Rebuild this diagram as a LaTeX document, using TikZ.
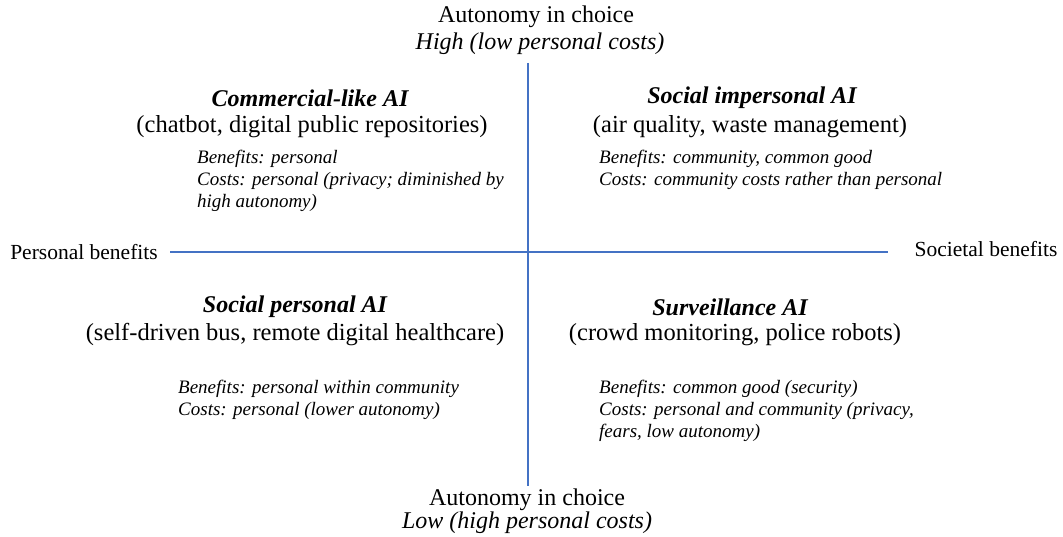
\documentclass[tikz,border=0pt]{standalone}
\usepackage{fontspec}
\setmainfont{Liberation Serif}
\definecolor{axisblue}{HTML}{4472C4}
\begin{document}
\begin{tikzpicture}[x=1pt,y=-1pt,
  axis/.style={draw=axisblue,line width=1.2pt},
  lbl/.style={font=\fontsize{21.5}{26}\selectfont,inner sep=0pt},
  axl/.style={font=\fontsize{24}{28}\selectfont,inner sep=0pt},
  ttl/.style={font=\fontsize{24}{28}\selectfont\bfseries\itshape,inner sep=0pt},
  sub/.style={font=\fontsize{24.5}{28}\selectfont,inner sep=0pt},
  blk/.style={font=\fontsize{19}{22}\selectfont\itshape,inner sep=0pt,align=left,anchor=north west}]
\useasboundingbox (0,0) rectangle (1063,537);
% axis labels
\node[axl] (top1) at (536,17) {Autonomy in choice};
\node[axl,font=\fontsize{24}{28}\selectfont\itshape] (top2) at (540,44) {High (low personal costs)};
\node[axl] (bot1) at (527,500) {Autonomy in choice};
\node[axl,font=\fontsize{24}{28}\selectfont\itshape] (bot2) at (527,523) {Low (high personal costs)};
\node[lbl] (pers) at (84,252) {Personal benefits};
\node[lbl] (soc) at (986,249) {Societal benefits};
% axes
\coordinate (vt) at (528,63);
\coordinate (vb) at (528,486);
\coordinate (hl) at (170,252);
\coordinate (hr) at (888,252);
\draw[axis] (vt) -- (vb);
\draw[axis] (hl) -- (hr);
% quadrant 1
\node[ttl] (q1t) at (310,98) {Commercial-like AI};
\node[sub] (q1s) at (312,127) {(chatbot, digital public repositories)};
\node[blk] (q1b) at (197,150) {Benefits: personal\\Costs: personal (privacy; diminished by\\high autonomy)};
% quadrant 2
\node[ttl] (q2t) at (752,98) {Social impersonal AI};
\node[sub] (q2s) at (750,127) {(air quality, waste management)};
\node[blk] (q2b) at (599,150) {Benefits: community, common good\\Costs: community costs rather than personal};
% quadrant 3
\node[ttl] (q3t) at (295,307) {Social personal AI};
\node[sub] (q3s) at (295,335) {(self-driven bus, remote digital healthcare)};
\node[blk] (q3b) at (178,380) {Benefits: personal within community\\Costs: personal (lower autonomy)};
% quadrant 4
\node[ttl] (q4t) at (730,307) {Surveillance AI};
\node[sub] (q4s) at (735,335) {(crowd monitoring, police robots)};
\node[blk] (q4b) at (599,380) {Benefits: common good (security)\\Costs: personal and community (privacy,\\fears, low autonomy)};
\end{tikzpicture}
\end{document}
